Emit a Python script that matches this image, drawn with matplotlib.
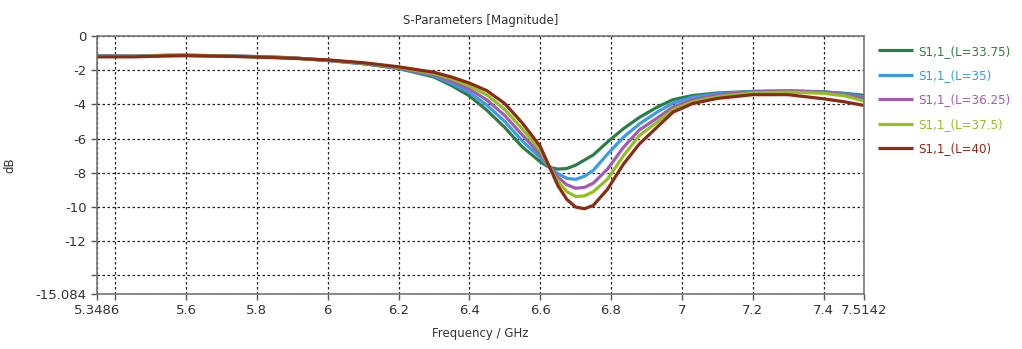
import matplotlib
matplotlib.use('Agg')
import matplotlib.pyplot as plt

# Frequency points (GHz) shared by every trace.
freq = [5.3486, 5.45, 5.55, 5.6, 5.7, 5.8, 5.9, 6.0, 6.1, 6.2, 6.3, 6.35,
        6.4, 6.45, 6.5, 6.55, 6.6, 6.625, 6.65, 6.675, 6.7, 6.725, 6.75,
        6.79, 6.835, 6.88, 6.93, 6.975, 7.03, 7.1, 7.2, 7.3, 7.4, 7.46, 7.5142]

# |S11| in dB for each length L.
s11_l3375 = [-1.15, -1.17, -1.12, -1.12, -1.15, -1.2, -1.27, -1.43, -1.62,
             -1.9, -2.4, -2.9, -3.5, -4.35, -5.35, -6.5, -7.35, -7.68, -7.78,
             -7.75, -7.55, -7.25, -6.95, -6.2, -5.42, -4.76, -4.16, -3.72,
             -3.48, -3.33, -3.24, -3.22, -3.27, -3.35, -3.47]
s11_l35 = [-1.17, -1.18, -1.14, -1.13, -1.16, -1.21, -1.28, -1.43, -1.61,
           -1.88, -2.33, -2.78, -3.3, -4.05, -5.0, -6.15, -7.1, -7.65, -8.05,
           -8.32, -8.38, -8.2, -7.85, -6.9, -5.92, -5.14, -4.45, -3.92,
           -3.58, -3.38, -3.24, -3.2, -3.25, -3.38, -3.57]
s11_l3625 = [-1.18, -1.18, -1.14, -1.13, -1.16, -1.21, -1.28, -1.42, -1.6,
             -1.86, -2.27, -2.64, -3.1, -3.75, -4.65, -5.8, -6.9, -7.6, -8.25,
             -8.7, -8.9, -8.85, -8.6, -7.78, -6.51, -5.49, -4.8, -4.15,
             -3.73, -3.45, -3.27, -3.22, -3.28, -3.42, -3.65]
s11_l375 = [-1.19, -1.19, -1.15, -1.14, -1.17, -1.22, -1.29, -1.41, -1.58,
            -1.83, -2.2, -2.5, -2.92, -3.45, -4.3, -5.45, -6.7, -7.6, -8.5,
            -9.1, -9.38, -9.35, -9.1, -8.37, -7.0, -5.82, -5.04, -4.3,
            -3.85, -3.55, -3.33, -3.28, -3.35, -3.5, -3.8]
s11_l40 = [-1.22, -1.22, -1.16, -1.15, -1.18, -1.23, -1.3, -1.4, -1.56,
           -1.8, -2.12, -2.4, -2.75, -3.2, -3.95, -5.1, -6.45, -7.6, -8.75,
           -9.55, -10.0, -10.1, -9.9, -8.96, -7.49, -6.31, -5.33, -4.45,
           -3.95, -3.65, -3.43, -3.43, -3.67, -3.85, -4.06]

labels = ['S1,1_(L=33.75)', 'S1,1_(L=35)', 'S1,1_(L=36.25)',
          'S1,1_(L=37.5)', 'S1,1_(L=40)']
colors = ['#2E7D46', '#3A9BEA', '#A35AB3', '#92C01F', '#8A2B17']

xticks = [5.3486, 5.4, 5.6, 5.8, 6.0, 6.2, 6.4, 6.6, 6.8, 7.0, 7.2, 7.4, 7.5142]
xticklabels = ['5.3486', '', '5.6', '5.8', '6', '6.2', '6.4', '6.6', '6.8',
               '7', '7.2', '7.4', '7.5142']
yticks = [0, -2, -4, -6, -8, -10, -12, -14, -15.084]
yticklabels = ['0', '-2', '-4', '-6', '-8', '-10', '-12', '', '-15.084']

plt.rcParams['font.family'] = ['DejaVu Sans']
plt.rcParams['font.size'] = 9

fig = plt.figure(figsize=(10.22, 3.49), dpi=100)
ax = fig.add_axes([0.0949, 0.1576, 0.7505, 0.7392])

series = [s11_l3375, s11_l35, s11_l3625, s11_l375, s11_l40]
for vals, lab, col in zip(series, labels, colors):
    ax.plot(freq, vals, color=col, lw=2.3, label=lab, solid_capstyle='butt')

ax.set_xlim(5.3486, 7.5142)
ax.set_ylim(-15.084, 0)
ax.set_xticks(xticks)
ax.set_xticklabels(xticklabels)
ax.set_yticks(yticks)
ax.set_yticklabels(yticklabels)
ax.grid(True, color='#222222', linestyle=(0, (2, 2)), lw=0.9)
ax.tick_params(direction='out', length=4, width=1, colors='#555555',
               labelcolor='#333333', labelsize=9.5)
for sp in ax.spines.values():
    sp.set_color('#777777')
    sp.set_linewidth(1.2)

ax.set_title('S-Parameters [Magnitude]', fontsize=8.5, color='#333333', pad=9)
ax.set_xlabel('Frequency / GHz', fontsize=8.5, color='#333333', labelpad=7)
ax.set_ylabel('dB', fontsize=8.5, color='#333333', labelpad=14)

ax.legend(loc='upper left', bbox_to_anchor=(0.859, 0.872),
          bbox_transform=fig.transFigure, frameon=False,
          labelcolor='linecolor', fontsize=8.6, handlelength=2.9,
          handletextpad=0.5, labelspacing=0.95, borderpad=0,
          borderaxespad=0)

fig.savefig('out.png', dpi=100)
